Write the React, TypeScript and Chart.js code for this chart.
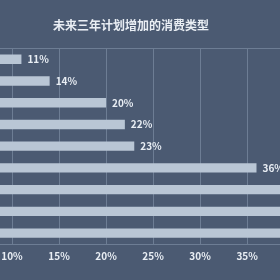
import React, { useEffect, useRef } from "react";
import { Chart, registerables } from "chart.js";

Chart.register(...registerables);

const TITLE = "未来三年计划增加的消费类型";
const categories = ["类型一", "类型二", "类型三", "类型四", "类型五", "类型六", "类型七", "类型八", "类型九"];
const values = [11, 14, 20, 22, 23, 36, 42, 47, 55];
const xMin = 8.72;
const xMax = 38.5;
const xStep = 5;

const BG = "#4b5a72";
const BAR = "#b9c6d5";
const GRID = "#6d7d94";
const TEXT = "#e9eef4";
const FONT = "'Noto Sans CJK SC', 'Noto Sans', sans-serif";

const valueLabels = {
  id: "valueLabels",
  afterDatasetsDraw(chart: any) {
    const ctx = chart.ctx;
    const meta = chart.getDatasetMeta(0);
    ctx.save();
    ctx.fillStyle = TEXT;
    ctx.font = `bold 10px ${FONT}`;
    ctx.textBaseline = "middle";
    ctx.textAlign = "left";
    meta.data.forEach((el: any, i: number) => {
      ctx.fillText(values[i] + "%", el.x + 6, el.y);
    });
    ctx.restore();
  },
  afterDraw(chart: any) {
    const ctx = chart.ctx;
    const tb = chart.titleBlock;
    const y = tb ? tb.top + 18 + (12 * 1.2) / 2 : 25;
    ctx.save();
    ctx.fillStyle = TEXT;
    ctx.font = `bold 12px ${FONT}`;
    ctx.textBaseline = "middle";
    ctx.textAlign = "center";
    ctx.fillText(TITLE, 131, y);
    ctx.restore();
  },
};

const bgPlugin = {
  id: "bgFill",
  beforeDraw(chart: any) {
    const ctx = chart.ctx;
    ctx.save();
    ctx.fillStyle = BG;
    ctx.fillRect(0, 0, chart.width, chart.height);
    ctx.restore();
  },
  beforeDatasetsDraw(chart: any) {
    const ctx = chart.ctx;
    const a = chart.chartArea;
    ctx.save();
    ctx.strokeStyle = GRID;
    ctx.lineWidth = 1;
    ctx.beginPath();
    ctx.moveTo(a.left, Math.round(a.top) + 0.5);
    ctx.lineTo(a.right, Math.round(a.top) + 0.5);
    ctx.stroke();
    ctx.restore();
  },
};

export default function App() {
  const ref = useRef<HTMLCanvasElement>(null);
  useEffect(() => {
    const chart = new Chart(ref.current!, {
      type: "bar",
      data: {
        labels: categories,
        datasets: [
          {
            data: values,
            backgroundColor: BAR,
            borderWidth: 0,
            categoryPercentage: 1,
            barPercentage: 0.43,
          },
        ],
      },
      options: {
        indexAxis: "y",
        animation: false,
        responsive: false,
        layout: { padding: { left: 0, right: 0, top: 0, bottom: 12 } },
        plugins: {
          legend: { display: false },
          tooltip: { enabled: false },
          title: {
            display: true,
            text: TITLE,
            color: "rgba(0,0,0,0)",
            font: { size: 12, weight: "bold", family: FONT },
            padding: { top: 18, bottom: 16 },
          },
        },
        scales: {
          x: {
            min: xMin,
            max: xMax,
            afterFit: (scale: any) => {
              scale.paddingLeft = 0;
              scale.paddingRight = 0;
            },
            border: { display: true, color: GRID },
            grid: { color: GRID, drawTicks: false },
            ticks: {
              stepSize: xStep,
              includeBounds: false,
              padding: 6,
              color: TEXT,
              font: { size: 10, weight: "bold", family: FONT },
              callback: (v: any) => v + "%",
              maxRotation: 0,
            },
          },
          y: {
            display: false,
          },
        },
      },
      plugins: [bgPlugin, valueLabels],
    });
    return () => chart.destroy();
  }, []);
  return (
    <div style={{ position: "fixed", left: 0, top: 0, width: 280, height: 280, background: BG }}>
      <canvas ref={ref} width={280} height={280} style={{ display: "block" }} />
    </div>
  );
}
